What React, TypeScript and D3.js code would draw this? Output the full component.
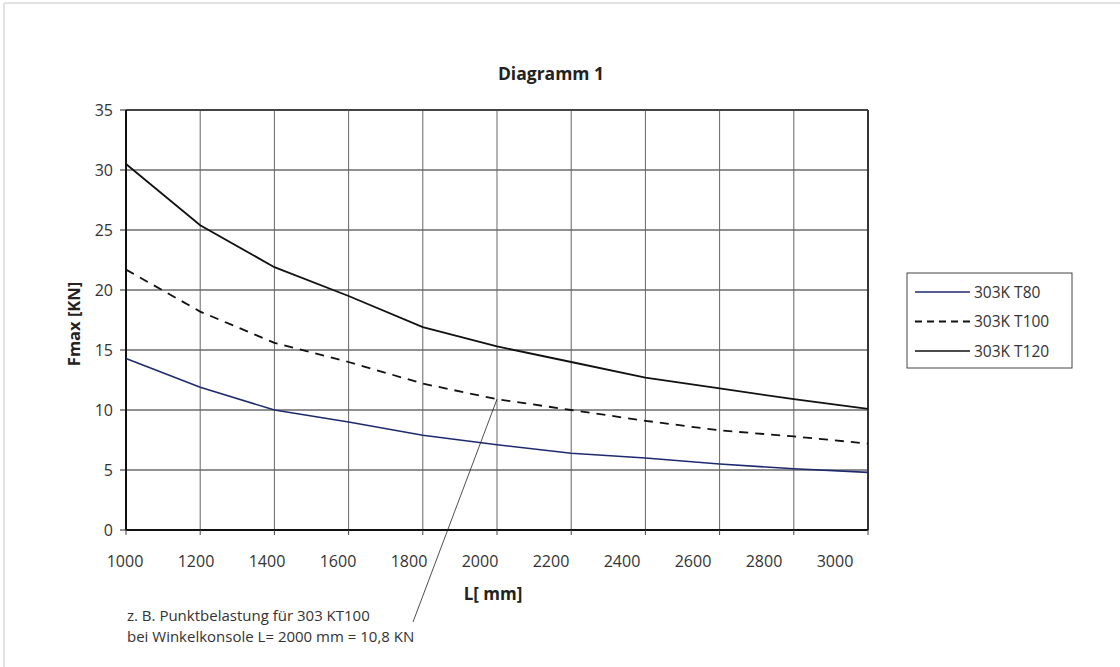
import React from "react";
import * as d3 from "d3";

const xValues = [1000, 1200, 1400, 1600, 1800, 2000, 2200, 2400, 2600, 2800, 3000];
const t80 = [14.3, 11.9, 10.0, 9.0, 7.9, 7.1, 6.4, 6.0, 5.5, 5.1, 4.8];
const t100 = [21.7, 18.2, 15.6, 14.0, 12.2, 10.9, 10.0, 9.1, 8.3, 7.8, 7.2];
const t120 = [30.5, 25.4, 21.9, 19.5, 16.9, 15.3, 14.0, 12.7, 11.8, 10.9, 10.1];
const yTicks = [0, 5, 10, 15, 20, 25, 30, 35];
const seriesNames = ["303K T80", "303K T100", "303K T120"];
const title = "Diagramm 1";
const yTitle = "Fmax [KN]";
const xTitle = "L[ mm]";
const noteLines = ["z. B. Punktbelastung für 303 KT100", "bei Winkelkonsole L= 2000 mm = 10,8 KN"];
const noteX = 2000;
const noteY = 10.9;

const FONT = "'Open Sans', 'DejaVu Sans', sans-serif";

export default function App() {
  const W = 1120, H = 667;
  const left = 126, right = 868, top = 110, bottom = 530;
  const x = d3.scaleLinear().domain([1000, 3000]).range([left, right]);
  const xLab = d3.scaleLinear().domain([1000, 3000]).range([125, 835]);
  const y = d3.scaleLinear().domain([0, 35]).range([bottom, top]);
  const line = d3.line<number>().x((_, i) => x(xValues[i])).y((d) => y(d));

  const series = [
    { name: seriesNames[0], data: t80, color: "#1f2a6e", dash: undefined as string | undefined, w: 1.6 },
    { name: seriesNames[1], data: t100, color: "#111", dash: "9,7", w: 1.8 },
    { name: seriesNames[2], data: t120, color: "#111", dash: undefined, w: 1.8 },
  ];

  const noteEnd = { x: 413, y: 622 };

  return (
    <svg width={W} height={H} style={{ position: "absolute", left: 0, top: 0, background: "#fff" }} fontFamily={FONT}>
      <line x1={4} y1={3} x2={W} y2={3} stroke="#e2e2e2" strokeWidth={2} />
      <line x1={4} y1={3} x2={4} y2={H} stroke="#e2e2e2" strokeWidth={2} />

      <text x={551} y={80} textAnchor="middle" fontSize={17.5} fontWeight="bold" fill="#222">{title}</text>

      {/* horizontal grid */}
      {yTicks.map((t) => (
        <line key={"h" + t} x1={left} x2={right} y1={y(t)} y2={y(t)} stroke="#222" strokeWidth={1} />
      ))}
      {/* vertical grid */}
      {xValues.map((v) => (
        <line key={"v" + v} x1={x(v)} x2={x(v)} y1={top} y2={bottom} stroke="#666" strokeWidth={1} />
      ))}
      {/* plot frame */}
      <line x1={left} x2={right} y1={top} y2={top} stroke="#444" strokeWidth={2} />
      <line x1={right} x2={right} y1={top} y2={bottom} stroke="#333" strokeWidth={2} />
      <line x1={left} x2={left} y1={top} y2={bottom} stroke="#111" strokeWidth={2} />
      <line x1={left} x2={right} y1={bottom} y2={bottom} stroke="#111" strokeWidth={2} />

      {/* y ticks */}
      {yTicks.map((t) => (
        <g key={"yt" + t}>
          <line x1={left - 6} x2={left} y1={y(t)} y2={y(t)} stroke="#222" />
          <text x={113} y={y(t) + 5.5} textAnchor="end" fontSize={16} fill="#333">{t}</text>
        </g>
      ))}
      {/* x ticks */}
      {xValues.map((v) => (
        <g key={"xt" + v}>
          <line x1={x(v)} x2={x(v)} y1={bottom} y2={bottom + 5} stroke="#444" />
          <text x={xLab(v)} y={567} textAnchor="middle" fontSize={16} fill="#333">{v}</text>
        </g>
      ))}

      <text x={493} y={600} textAnchor="middle" fontSize={17} fontWeight="bold" fill="#222">{xTitle}</text>
      <text transform={`translate(80,324) rotate(-90)`} textAnchor="middle" fontSize={16.5} fontWeight="bold" fill="#222">{yTitle}</text>

      {series.map((s) => (
        <path key={s.name} d={line(s.data) || ""} fill="none" stroke={s.color} strokeWidth={s.w} strokeDasharray={s.dash} />
      ))}

      {/* annotation */}
      <line x1={x(noteX)} y1={y(noteY)} x2={noteEnd.x} y2={noteEnd.y} stroke="#222" strokeWidth={0.8} />
      {noteLines.map((l, i) => (
        <text key={i} x={127} y={621 + i * 20.5} fontSize={15} fill="#333">{l}</text>
      ))}

      {/* legend */}
      <rect x={907} y={273} width={165} height={95} fill="#fff" stroke="#444" strokeWidth={1} />
      {series.map((s, i) => (
        <g key={"lg" + i}>
          <line x1={915} x2={970} y1={292 + i * 29.5} y2={292 + i * 29.5} stroke={s.color} strokeWidth={s.dash ? 2.2 : 1.6} strokeDasharray={s.dash ? "7,5" : undefined} />
          <text x={974} y={297.5 + i * 29.5} fontSize={15.5} fill="#333">{s.name}</text>
        </g>
      ))}
    </svg>
  );
}
